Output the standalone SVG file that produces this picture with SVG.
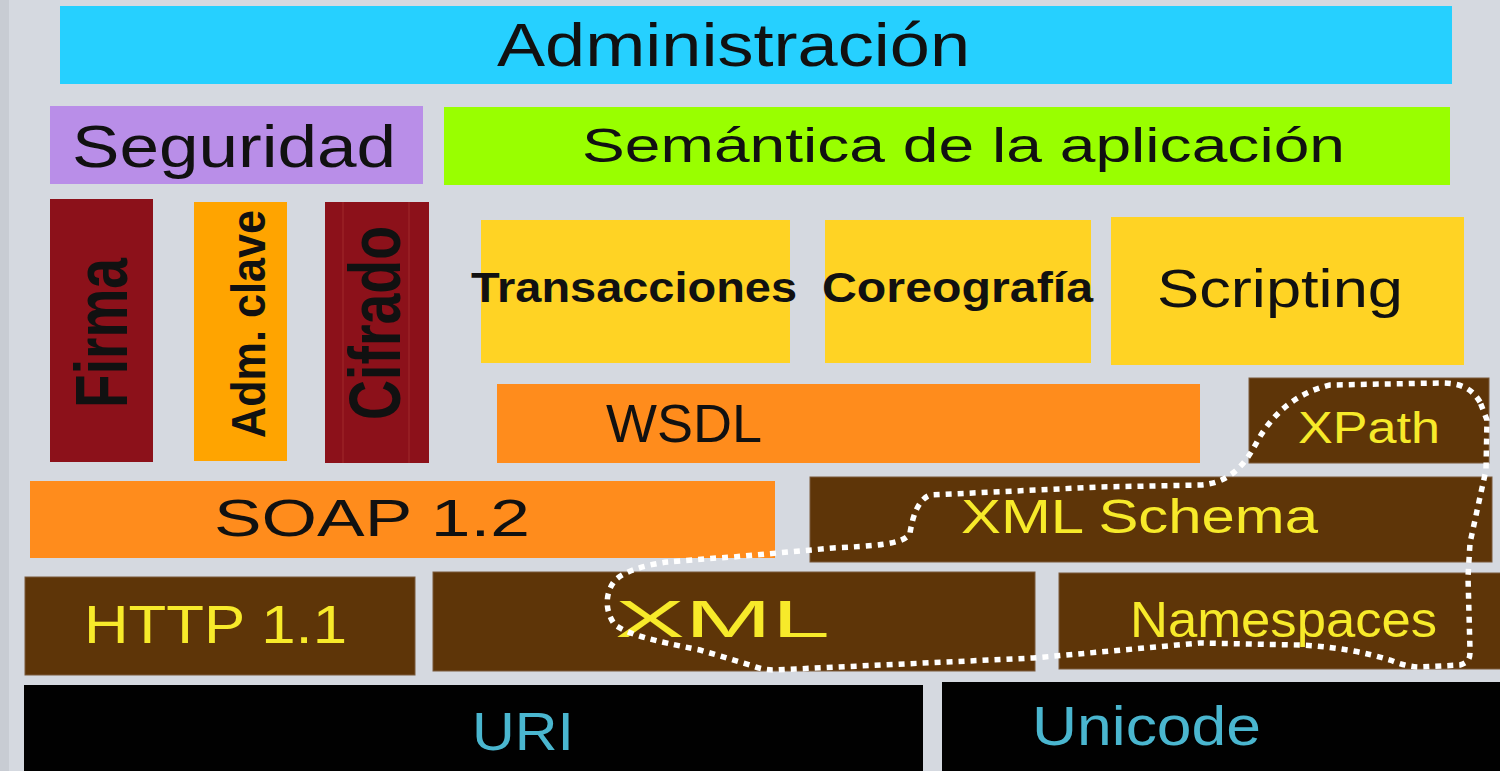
<svg xmlns="http://www.w3.org/2000/svg" width="1500" height="771" viewBox="0 0 1500 771">
<style>
text{font-family:"Liberation Sans",Arial,sans-serif;}
.dk{fill:#111;}
.yl{fill:#f7ea2a;}
.bl{fill:#4ab6cf;}
.br{fill:#5e3508;stroke:#7a5a3a;stroke-width:1;}
.or{fill:#ff8c1c;}
.ye{fill:#ffd324;}
.rd{fill:#8c111a;}
.blk{fill:#010101;}
</style>
<rect x="0" y="0" width="1500" height="771" fill="#d5d9e0"/>
<rect x="0" y="0" width="9" height="771" fill="#c8ccd3"/>

<g id="administracion">
<rect x="60" y="6" width="1392" height="78" fill="#26d0ff"/>
<text x="497" y="66" font-size="62" textLength="473" lengthAdjust="spacingAndGlyphs" class="dk">Administración</text>
</g>
<g id="seguridad">
<rect x="50" y="106" width="373" height="78" fill="#b98ee8"/>
<text x="72" y="167" font-size="60" textLength="324" lengthAdjust="spacingAndGlyphs" class="dk">Seguridad</text>
</g>
<g id="semantica">
<rect x="444" y="107" width="1006" height="78" fill="#99ff00"/>
<text x="582" y="162" font-size="49" textLength="763" lengthAdjust="spacingAndGlyphs" class="dk">Semántica de la aplicación</text>
</g>
<g id="firma">
<rect x="50" y="199" width="103" height="263" class="rd"/>
<text transform="translate(127,333) rotate(-90)" x="0" y="0" text-anchor="middle" font-size="75" font-weight="bold" textLength="150" lengthAdjust="spacingAndGlyphs" class="dk">Firma</text>
</g>
<g id="admclave">
<rect x="194" y="202" width="93" height="259" fill="#ffa400"/>
<text transform="translate(265,324) rotate(-90)" x="0" y="0" text-anchor="middle" font-size="48" font-weight="bold" textLength="228" lengthAdjust="spacingAndGlyphs" class="dk">Adm. clave</text>
</g>
<g id="cifrado">
<rect x="325" y="202" width="104" height="261" class="rd"/>
<line x1="343" y1="202" x2="343" y2="463" stroke="#a02a2a" stroke-width="1"/>
<line x1="409" y1="202" x2="409" y2="463" stroke="#a02a2a" stroke-width="1"/>
<text transform="translate(400,323) rotate(-90)" x="0" y="0" text-anchor="middle" font-size="73" font-weight="bold" textLength="194" lengthAdjust="spacingAndGlyphs" class="dk">Cifrado</text>
</g>
<g id="transacciones">
<rect x="481" y="220" width="309" height="143" class="ye"/>
<text x="471" y="302" font-size="42" font-weight="bold" textLength="326" lengthAdjust="spacingAndGlyphs" class="dk">Transacciones</text>
</g>
<g id="coreografia">
<rect x="825" y="220" width="266" height="143" class="ye"/>
<text x="822" y="302" font-size="42" font-weight="bold" textLength="271" lengthAdjust="spacingAndGlyphs" class="dk">Coreografía</text>
</g>
<g id="scripting">
<rect x="1111" y="217" width="353" height="148" class="ye"/>
<text x="1157" y="307" font-size="54" textLength="246" lengthAdjust="spacingAndGlyphs" class="dk">Scripting</text>
</g>
<g id="wsdl">
<rect x="497" y="384" width="703" height="79" class="or"/>
<text x="606" y="442" font-size="54" textLength="156" lengthAdjust="spacingAndGlyphs" class="dk">WSDL</text>
</g>
<g id="xpath">
<rect x="1249" y="378" width="240" height="85" class="br"/>
<text x="1298" y="443" font-size="44" textLength="142" lengthAdjust="spacingAndGlyphs" class="yl">XPath</text>
</g>
<g id="soap">
<rect x="30" y="481" width="745" height="77" class="or"/>
<text x="214" y="536" font-size="52" textLength="316" lengthAdjust="spacingAndGlyphs" class="dk">SOAP 1.2</text>
</g>
<g id="xmlschema">
<rect x="810" y="477" width="682" height="85" class="br"/>
<text x="961" y="533" font-size="49" textLength="357" lengthAdjust="spacingAndGlyphs" class="yl">XML Schema</text>
</g>
<g id="http">
<rect x="25" y="577" width="390" height="98" class="br"/>
<text x="84" y="643" font-size="53" textLength="263" lengthAdjust="spacingAndGlyphs" class="yl">HTTP 1.1</text>
</g>
<g id="xml">
<rect x="433" y="572" width="602" height="99" class="br"/>
<text x="615" y="637" font-size="52" textLength="215" lengthAdjust="spacingAndGlyphs" class="yl">XML</text>
</g>
<g id="namespaces">
<rect x="1059" y="573" width="445" height="96" class="br"/>
<text x="1130" y="637" font-size="50" textLength="307" lengthAdjust="spacingAndGlyphs" class="yl">Namespaces</text>
</g>
<g id="uri">
<rect x="24" y="685" width="899" height="90" class="blk"/>
<text x="472" y="750" font-size="54" textLength="102" lengthAdjust="spacingAndGlyphs" class="bl">URI</text>
</g>
<g id="unicode">
<rect x="942" y="682" width="562" height="93" class="blk"/>
<text x="1032" y="745" font-size="55" textLength="229" lengthAdjust="spacingAndGlyphs" class="bl">Unicode</text>
</g>

<g id="connectors">
<path d="M1480,402 C1470,385 1455,383 1440,383 L1330,385 C1300,392 1275,410 1258,440 C1245,465 1230,483 1200,485 L1100,487 L930,495 C918,500 913,515 910,533 C905,545 870,546 833,548 L733,557 C700,559 680,561 667,562 C645,565 620,572 613,583 C605,595 605,612 615,625 C630,635 650,640 700,650 L750,665 C760,669 768,670 773,670 L1033,658 L1100,652 L1200,643 L1300,645 C1340,647 1367,653 1390,660 C1400,664 1410,667 1420,667 L1460,665 C1470,662 1470,657 1470,650 L1468,577 L1470,543 L1480,497 L1486,470 L1487,420 Z" fill="none" stroke="#ffffff" stroke-width="5.5" stroke-dasharray="6 6"/>
</g>
</svg>
